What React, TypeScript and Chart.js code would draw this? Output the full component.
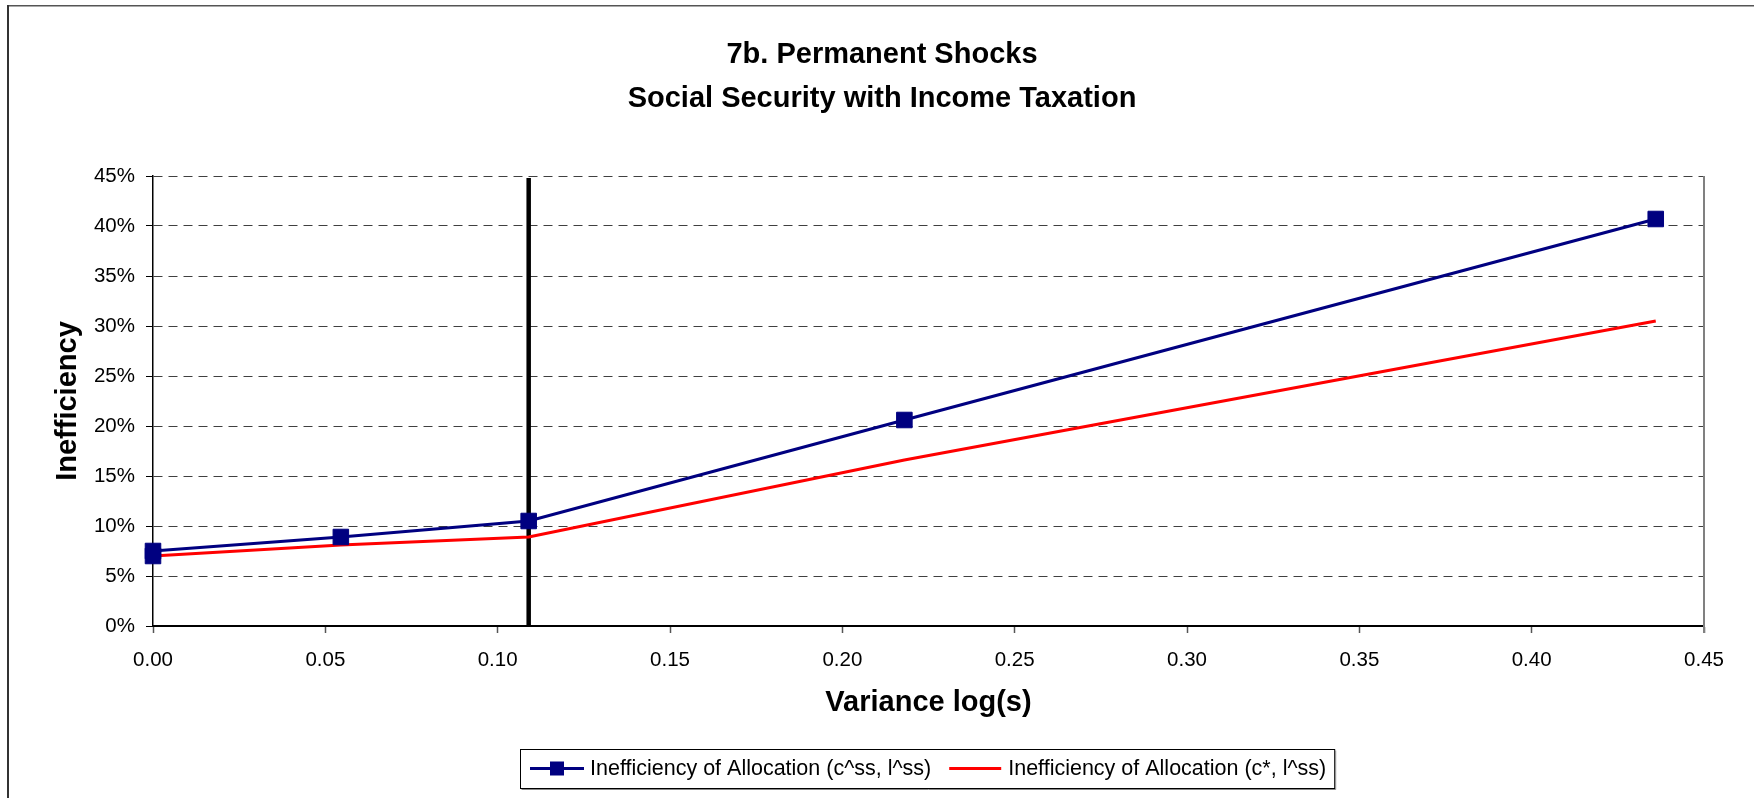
import React, { useEffect, useRef } from "react";
import { Chart, registerables } from "chart.js";

Chart.register(...registerables);

// ---- data ----
const xValues = [0, 0.0545, 0.109, 0.218, 0.436];
const seriesSS = [0.075, 0.089, 0.105, 0.206, 0.407];
const seriesStar = [0.070, 0.081, 0.089, 0.166, 0.305];
const yTickLabels = ["0%", "5%", "10%", "15%", "20%", "25%", "30%", "35%", "40%", "45%"];
const xTickLabels = ["0.00", "0.05", "0.10", "0.15", "0.20", "0.25", "0.30", "0.35", "0.40", "0.45"];
const vLineX = 0.109;
const titleLines = ["7b. Permanent Shocks", "Social Security with Income Taxation"];
const xTitle = "Variance log(s)";
const yTitle = "Inefficiency";
const legendLabels = ["Inefficiency of Allocation (c^ss, l^ss)", "Inefficiency of Allocation (c*, l^ss)"];

const NAVY = "#000080";
const RED = "#FF0000";
const FONT = "'Liberation Sans', Arial, sans-serif";

const W = 1754;
const H = 798;

const decorPlugin = {
  id: "decor",
  beforeDraw(chart: any) {
    const ctx = chart.ctx;
    ctx.save();
    ctx.fillStyle = "#ffffff";
    ctx.fillRect(0, 0, W, H);
    // outer frame
    ctx.fillStyle = "#555555";
    ctx.fillRect(7, 5, W - 7, 1.5);
    ctx.fillStyle = "#333333";
    ctx.fillRect(7, 5, 2, H - 5);
    ctx.restore();
  },
  beforeDatasetsDraw(chart: any) {
    const ctx = chart.ctx;
    const { top, bottom, right } = chart.chartArea;
    const xs = chart.scales.x;
    ctx.save();
    // right border of plot
    ctx.strokeStyle = "#808080";
    ctx.lineWidth = 2;
    ctx.beginPath();
    ctx.moveTo(right, top);
    ctx.lineTo(right, bottom + 7);
    ctx.stroke();
    // vertical marker line
    const px = xs.getPixelForValue(vLineX);
    ctx.strokeStyle = "#000000";
    ctx.lineWidth = 4.5;
    ctx.beginPath();
    ctx.moveTo(px, top + 2);
    ctx.lineTo(px, bottom);
    ctx.stroke();
    ctx.restore();
  },
  afterDraw(chart: any) {
    const ctx = chart.ctx;
    const { left, right, top, bottom } = chart.chartArea;
    ctx.save();
    ctx.fillStyle = "#000000";
    ctx.textAlign = "center";
    ctx.textBaseline = "alphabetic";
    ctx.font = `bold 29px ${FONT}`;
    ctx.fillText(titleLines[0], 882, 63);
    ctx.fillText(titleLines[1], 882, 106.5);
    // x title
    ctx.fillText(xTitle, (left + right) / 2, 711);
    // y title
    ctx.save();
    ctx.translate(75.5, (top + bottom) / 2);
    ctx.rotate(-Math.PI / 2);
    ctx.fillText(yTitle, 0, 0);
    ctx.restore();

    // legend
    const fs = 21.5;
    ctx.font = `${fs}px ${FONT}`;
    const boxL = 520;
    const boxT = 749;
    const boxH = 39;
    const cy = boxT + boxH / 2;
    let x = boxL + 10;
    const w1 = ctx.measureText(legendLabels[0]).width;
    const w2 = ctx.measureText(legendLabels[1]).width;
    const boxW = 10 + 54 + 6 + w1 + 18 + 52 + 7 + w2 + 8;
    ctx.fillStyle = "#ffffff";
    ctx.fillRect(boxL, boxT, boxW, boxH);
    ctx.strokeStyle = "#000000";
    ctx.lineWidth = 1;
    ctx.strokeRect(boxL + 0.5, boxT + 0.5, boxW, boxH);
    ctx.strokeStyle = "#888888";
    ctx.beginPath();
    ctx.moveTo(boxL + 1.5, boxT + boxH + 1.5);
    ctx.lineTo(boxL + boxW + 1.5, boxT + boxH + 1.5);
    ctx.lineTo(boxL + boxW + 1.5, boxT + 1.5);
    ctx.stroke();
    // item 1
    ctx.strokeStyle = NAVY;
    ctx.lineWidth = 3;
    ctx.beginPath();
    ctx.moveTo(x, cy);
    ctx.lineTo(x + 54, cy);
    ctx.stroke();
    ctx.fillStyle = NAVY;
    ctx.fillRect(x + 27 - 7, cy - 7, 14, 14);
    x += 54 + 6;
    ctx.fillStyle = "#000000";
    ctx.textAlign = "left";
    ctx.textBaseline = "middle";
    ctx.fillText(legendLabels[0], x, cy + 1);
    x += w1 + 18;
    ctx.strokeStyle = RED;
    ctx.lineWidth = 3;
    ctx.beginPath();
    ctx.moveTo(x, cy);
    ctx.lineTo(x + 52, cy);
    ctx.stroke();
    x += 52 + 7;
    ctx.fillText(legendLabels[1], x, cy + 1);
    ctx.restore();
  },
};

export default function App() {
  const ref = useRef<HTMLCanvasElement | null>(null);
  useEffect(() => {
    if (!ref.current) return;
    const chart = new Chart(ref.current, {
      type: "line",
      data: {
        datasets: [
          {
            label: legendLabels[0],
            data: xValues.map((x, i) => ({ x, y: seriesSS[i] })),
            borderColor: NAVY,
            backgroundColor: NAVY,
            borderWidth: 3.2,
            pointStyle: "rect",
            pointRadius: 11,
            pointBorderWidth: 1,
            pointBackgroundColor: NAVY,
            pointBorderColor: NAVY,
            tension: 0,
            clip: false,
          },
          {
            label: legendLabels[1],
            data: xValues.map((x, i) => ({ x, y: seriesStar[i] })),
            borderColor: RED,
            backgroundColor: NAVY,
            borderWidth: 3,
            pointStyle: "rect",
            pointRadius: xValues.map((_, i) => (i === 0 ? 11 : 0)),
            pointBorderWidth: 1,
            pointBackgroundColor: NAVY,
            pointBorderColor: NAVY,
            tension: 0,
            order: 1,
            clip: false,
          },
        ],
      },
      options: {
        animation: false,
        responsive: false,
        devicePixelRatio: 1,
        layout: { padding: { left: 0, top: 176, right: 50, bottom: 0 } },
        plugins: {
          legend: { display: false },
          title: { display: false },
          tooltip: { enabled: false },
        },
        scales: {
          x: {
            type: "linear",
            min: 0,
            max: 0.45,
            afterFit: (s: any) => {
              s.height = 172;
            },
            ticks: {
              stepSize: 0.05,
              padding: 15,
              color: "#000000",
              font: { family: FONT, size: 20.5 },
              maxRotation: 0,
              autoSkip: false,
              callback: (_v: any, i: number) => xTickLabels[i],
            },
            grid: {
              drawOnChartArea: false,
              drawTicks: true,
              tickLength: 7,
              tickColor: "#555555",
              tickWidth: 1.5,
            },
            border: { display: true, color: "#000000", width: 2 },
          },
          y: {
            type: "linear",
            min: 0,
            max: 0.45,
            afterFit: (s: any) => {
              s.width = 153;
            },
            ticks: {
              stepSize: 0.05,
              padding: 11,
              color: "#000000",
              font: { family: FONT, size: 20.5 },
              autoSkip: false,
              callback: (_v: any, i: number) => yTickLabels[i],
            },
            grid: {
              color: "#404040",
              lineWidth: 1,
              drawTicks: true,
              tickLength: 7,
              tickColor: "#000000",
              tickWidth: 1,
              tickBorderDash: [],
            },
            border: { display: true, color: "#000000", width: 1.5, dash: [9, 6] },
          },
        },
      },
      plugins: [decorPlugin],
    } as any);
    return () => chart.destroy();
  }, []);
  return (
    <canvas
      ref={ref}
      width={W}
      height={H}
      style={{ position: "absolute", left: 0, top: 0, width: W, height: H, display: "block" }}
    />
  );
}
